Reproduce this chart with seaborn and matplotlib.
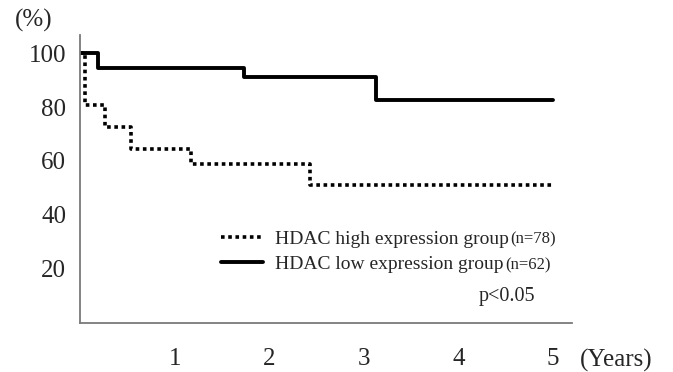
import matplotlib
matplotlib.use('Agg')
import matplotlib.pyplot as plt
import seaborn as sns
import pandas as pd
from matplotlib.lines import Line2D

sns.set_style('white')
plt.rcParams['font.family'] = ['Liberation Serif', 'DejaVu Serif']

# Kaplan-Meier step data (years, survival %)
high_years = [0, 0.05, 0.26, 0.54, 1.17, 2.43, 5.0]
high_surv = [100, 80.7, 72.5, 64.4, 58.9, 51.1, 51.1]
low_years = [0, 0.19, 1.73, 3.13, 5.0]
low_surv = [100, 94.3, 91.0, 82.6, 82.6]

labels = ['HDAC high expression group', 'HDAC low expression group']
counts = ['(n=78)', '(n=62)']
x_ticks = [1, 2, 3, 4, 5]
y_ticks = [20, 40, 60, 80, 100]

high = pd.DataFrame({'years': high_years, 'surv': high_surv})
low = pd.DataFrame({'years': low_years, 'surv': low_surv})

fig = plt.figure(figsize=(6.73, 3.72), dpi=100)
ax = fig.add_axes([0.119, 0.132, 0.731, 0.774])

sns.lineplot(data=high, x='years', y='surv', ax=ax, color='black',
             linestyle=(0, (1, 1)), linewidth=2.6, drawstyle='steps-post')
sns.lineplot(data=low, x='years', y='surv', ax=ax, color='black',
             linewidth=2.8, drawstyle='steps-post')

ax.set_xlim(0, 5.2)
ax.set_ylim(0, 106.7)
ax.set_xlabel('')
ax.set_ylabel('')

for side in ['top', 'right']:
    ax.spines[side].set_visible(False)
for side in ['left', 'bottom']:
    ax.spines[side].set_color('#7a7a7a')
    ax.spines[side].set_linewidth(1.3)

ax.set_xticks(x_ticks)
ax.set_xticklabels([str(t) for t in x_ticks], fontsize=18)
ax.set_yticks(y_ticks)
ax.set_yticklabels([str(t) for t in y_ticks], fontsize=18)
ax.tick_params(axis='x', direction='in', length=4, width=1.2, color='#7a7a7a', pad=18)
ax.tick_params(axis='y', direction='out', length=5, width=1.2, color='#7a7a7a', pad=5)

fig.text(0.022, 0.946, '(%)', fontsize=18, ha='left', va='center')
fig.text(0.862, 0.032, '(Years)', fontsize=18, ha='left', va='center')

handles = [Line2D([], [], color='black', linestyle=(0, (1, 1)), linewidth=2.6),
           Line2D([], [], color='black', linewidth=2.8)]
leg = ax.legend(handles, labels, loc='upper left', bbox_to_anchor=(0.27, 0.35),
                frameon=False, fontsize=14, handlelength=2.2, handletextpad=0.6,
                labelspacing=0.4, borderaxespad=0)
fig.canvas.draw()
for txt, n in zip(leg.get_texts(), counts):
    ax.annotate(n, xy=(1, 0.0), xycoords=txt, xytext=(1, 0),
                textcoords='offset points', fontsize=12, ha='left', va='bottom')

ax.text(0.81, 0.09, 'p<0.05', transform=ax.transAxes, fontsize=14.5, ha='left', va='center')

fig.savefig('out.png', dpi=100)
